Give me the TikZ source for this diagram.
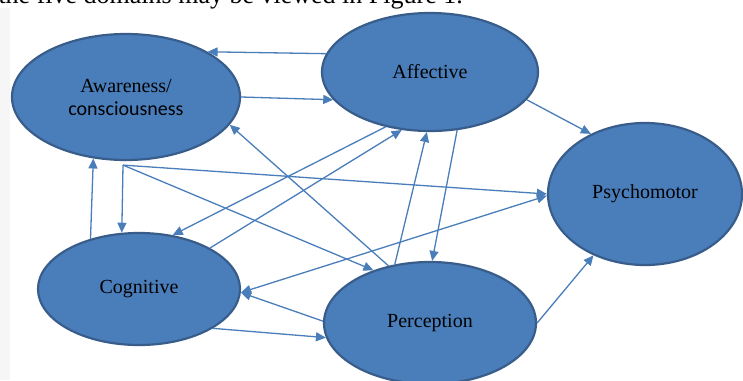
\documentclass[tikz,border=0pt]{standalone}
\usepackage{fontspec}
\setmainfont{Liberation Serif}
\newfontfamily\calibri{Carlito}
\usetikzlibrary{shapes.geometric,arrows.meta,calc}
\definecolor{blobfill}{HTML}{4A7EBB}
\definecolor{blobline}{HTML}{385D8A}
\definecolor{linkcol}{HTML}{4A7EBB}
\definecolor{pagegray}{HTML}{F6F6F6}
\tikzset{
  blob/.style={ellipse, draw=blobline, line width=2.2pt, fill=blobfill, inner sep=0pt,
    font=\fontsize{20}{23}\selectfont, text=black, align=center},
  link/.style={draw=linkcol, line width=1.3pt, -{Triangle[length=10pt,width=9pt]}},
  linkboth/.style={draw=linkcol, line width=1.3pt, {Triangle[length=10pt,width=9pt]}-{Triangle[length=10pt,width=9pt]}}
}
\begin{document}
\begin{tikzpicture}[x=1pt,y=-1pt]
\useasboundingbox (0,0) rectangle (743,380);
\clip (0,0) rectangle (743,380);
\fill[white] (0,0) rectangle (743,380);
\fill[pagegray] (0,8) rectangle (10,380);
\node[anchor=base east, font=\fontsize{26}{30}\selectfont, inner sep=0pt] (cap) at (463,4) {the five domains may be viewed in Figure 1.};

\node[blob, minimum width=228pt, minimum height=126pt] (awa) at (126,97) {Awareness/\\{\calibri consciousness}};
\node[blob, minimum width=216pt, minimum height=118pt] (aff) at (430,72) {Affective};
\node[blob, minimum width=194pt, minimum height=142pt] (psy) at (645,194) {Psychomotor};
\node[blob, minimum width=202pt, minimum height=112pt] (cog) at (139,289) {Cognitive};
\node[blob, minimum width=212pt, minimum height=122pt] (per) at (430,323) {Perception};

\coordinate (fork) at ([shift={(-3,4)}]awa.south);

\draw[link] (aff.170.9) -- (awa.29.4);
\draw[link] (awa.-0.5) -- (aff.196.1);
\draw[link] (per.126.9) -- (awa.-15.7);
\draw[link] (fork) -- (cog.107.2);
\draw[link] (fork) -- (psy.180.6);
\draw[link] (fork) -- (per.137.7);
\draw[link] (cog.134.4) -- (awa.242.7);
\draw[link] (aff.231.6) -- (cog.58.1);
\draw[link] (cog.30) -- (aff.244.6);
\draw[link] (per.121.1) -- (aff.267.2);
\draw[link] (aff.295) -- (per.88.1);
\draw[linkboth] (cog.-2) -- (psy.181.2);
\draw[link] (per.179.5) -- (cog.-2);
\draw[link] (cog.-28.8) -- (per.188.9);
\draw[link] (per.0) -- (psy.230.9);
\draw[link] (aff.-16.9) -- (psy.132.8);
\end{tikzpicture}
\end{document}
